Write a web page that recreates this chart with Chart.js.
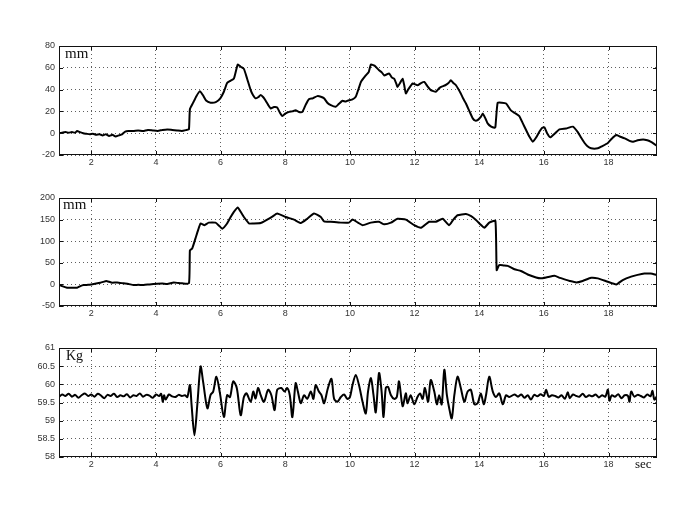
<!DOCTYPE html>
<html>
<head>
<meta charset="utf-8">
<script src="https://cdn.jsdelivr.net/npm/chart.js@4.4.1/dist/chart.umd.min.js"></script>
<style>
  html, body { margin: 0; padding: 0; background: #fff; }
  #wrap { position: relative; width: 700px; height: 511px; overflow: hidden; background: #fff; }
  canvas { position: absolute; left: 0; }
  .lab { position: absolute; font-family: "Liberation Serif", "DejaVu Serif", serif; color: #111; white-space: nowrap; }
</style>
</head>
<body>
<div id="wrap">
  <canvas id="c1" width="700" height="175" style="top:0px"></canvas>
  <canvas id="c2" width="700" height="150" style="top:175px"></canvas>
  <canvas id="c3" width="700" height="186" style="top:325px"></canvas>
  <div class="lab" style="left:65px; top:46px; font-size:15px; line-height:15px;">mm</div>
  <div class="lab" style="left:63px; top:197px; font-size:15px; line-height:15px;">mm</div>
  <div class="lab" style="left:66px; top:349px; font-size:14px; line-height:14px;">Kg</div>
  <div class="lab" style="left:635px; top:457px; font-size:13px; line-height:13px;">sec</div>
</div>
<script>
// ---- shared x axis ----
const xTicks = [2, 4, 6, 8, 10, 12, 14, 16, 18];
const xRange = [1, 19.5];

// ---- panel 1: displacement (mm) ----
const topTicks = [-20, 0, 20, 40, 60, 80];
const topT = [1.0,1.1,1.2,1.3,1.4,1.5,1.56,1.65,1.75,1.85,1.95,2.05,2.15,2.25,2.35,2.45,2.55,2.65,2.75,2.85,2.95,3.05,3.15,3.3,3.45,3.6,3.75,3.9,4.05,4.2,4.35,4.5,4.65,4.8,4.95,5.02,5.05,5.15,5.25,5.36,5.45,5.55,5.69,5.85,5.99,6.1,6.2,6.3,6.41,6.53,6.62,6.72,6.82,6.93,7.0,7.08,7.16,7.24,7.32,7.39,7.47,7.55,7.65,7.75,7.83,7.91,8.0,8.12,8.22,8.32,8.42,8.53,8.63,8.73,8.85,8.99,9.1,9.2,9.3,9.41,9.56,9.66,9.77,9.87,9.97,10.08,10.18,10.26,10.34,10.49,10.58,10.65,10.76,10.9,10.98,11.06,11.21,11.3,11.37,11.44,11.47,11.55,11.63,11.68,11.73,11.8,11.94,12.09,12.2,12.3,12.4,12.5,12.66,12.75,12.82,12.95,13.05,13.12,13.2,13.28,13.43,13.5,13.59,13.7,13.8,13.88,13.95,14.05,14.11,14.2,14.26,14.37,14.47,14.5,14.57,14.7,14.83,14.98,15.1,15.24,15.35,15.45,15.55,15.66,15.76,15.86,15.95,16.02,16.1,16.2,16.35,16.48,16.69,16.9,17.05,17.15,17.26,17.35,17.46,17.67,17.8,17.98,18.1,18.24,18.35,18.5,18.65,18.76,18.9,19.07,19.2,19.3,19.42,19.51];
const topV = [0,0.5,1,0.5,1,0.5,2,1,0,-0.5,-1,-0.5,-1.5,-1,-2,-1,-2.5,-1.5,-3,-2,-1,1.5,2,2,2.5,2,3,2.5,2,3,3.5,3,2.5,2,3,3.5,22,28,34,38.6,35,30,28,28.5,32,38,46,48,50,63,61,59,50,39.5,35,32,33,35,33,30,26,22.7,24,23.5,19,15.7,18,19.6,20,21,19.5,19.6,26,31.2,32,34,33.5,32,28,25.7,24.2,27,29.7,29,30.3,31,33.4,40,47,53,56,63,62,57.8,56,53,54.7,51,50,45,42.5,46,50,44,36.5,40,45.6,44,46,47,43,39.5,38,41,42.5,44,46,48.6,46,44,36.5,32,27.3,20,13.6,11.5,12,15,18,13,9,6,5,5.5,27.9,28,27.3,21,18.5,15.7,9,2.9,-3,-7.8,-4,1.3,5,5.3,0,-3.8,0,3.5,4.4,6,1,-4,-9,-12,-13.9,-13.9,-12,-9,-5,-1.7,-3,-4.7,-7,-7.8,-6.5,-5.7,-6.5,-7.8,-10,-11.8];

// ---- panel 2: displacement (mm) ----
const midTicks = [-50, 0, 50, 100, 150, 200];
const midT = [1.0,1.1,1.25,1.4,1.56,1.66,1.76,1.9,2.0,2.15,2.28,2.4,2.46,2.55,2.64,2.8,3.0,3.15,3.31,3.45,3.62,3.8,4.04,4.2,4.35,4.55,4.7,4.81,5.02,5.05,5.12,5.22,5.3,5.38,5.5,5.63,5.84,5.95,6.05,6.2,6.31,6.41,6.53,6.62,6.72,6.88,7.0,7.24,7.44,7.6,7.75,8.01,8.27,8.48,8.68,8.89,9.1,9.2,9.41,9.72,9.97,10.08,10.25,10.39,10.65,10.9,11.06,11.27,11.47,11.73,11.99,12.2,12.45,12.66,12.87,13.07,13.2,13.33,13.59,13.75,13.9,14.05,14.16,14.31,14.5,14.54,14.62,14.75,14.88,15.09,15.29,15.5,15.76,15.9,16.07,16.33,16.5,16.64,16.8,17.0,17.2,17.46,17.67,17.98,18.24,18.44,18.7,18.9,19.11,19.3,19.51];
const midV = [0,-4,-7.7,-8,-7.7,-4,-1.5,-1,0,2,4,6.5,7.7,6,4,4.5,2.4,1,-1.5,-1,-1.5,0,1.5,2,0.8,4.6,3,2.4,2.4,79,83,106,125,141,137,143,143,136,129,141,156,168,178,168,156,141,141,142,150,157,164,156,150,142,152,164,156,146,145,143,143,150,143,137,143,145,139,143,152,150,137,131,145,145,152,137,150,160,163,158,149,138,131,143,147,33,45,44,43,35,31,23,16,14,16,20,15,11.6,8,4.6,8,15.3,14,6,0,10,18,22,25,25,21.5];

// ---- panel 3: load (Kg) ----
const botTicks = [58, 58.5, 59, 59.5, 60, 60.5, 61];
const botT = [1.0,1.1,1.2,1.3,1.4,1.5,1.6,1.7,1.8,1.9,2.0,2.1,2.2,2.3,2.4,2.5,2.6,2.7,2.8,2.9,3.0,3.1,3.2,3.3,3.4,3.5,3.6,3.7,3.8,3.9,4.0,4.1,4.16,4.21,4.25,4.3,4.4,4.5,4.6,4.7,4.8,4.9,
  4.97,5.05,5.1,5.19,5.28,5.38,5.46,5.59,5.69,5.77,5.87,5.98,6.1,6.2,6.29,6.39,6.5,6.62,6.72,6.8,6.93,7.01,7.08,7.16,7.24,7.34,7.47,7.57,7.67,7.75,7.88,7.98,8.06,8.14,8.22,8.32,8.39,8.48,8.58,8.68,8.79,8.87,8.94,9.04,9.12,9.2,9.32,9.43,9.51,9.61,9.72,9.82,9.92,10.0,10.08,10.18,10.28,10.39,10.49,10.56,10.65,10.73,10.8,10.9,10.98,11.04,11.11,11.18,11.27,11.37,11.45,11.52,11.63,11.73,11.78,11.88,11.99,12.09,12.17,12.25,12.32,12.42,12.5,12.61,12.69,12.76,12.84,12.92,13.0,13.07,13.15,13.23,13.33,13.43,13.54,13.64,13.74,13.85,13.95,14.05,14.14,14.21,14.31,14.42,14.52,14.62,14.73,14.83,14.93,15.09,
  15.2,15.3,15.4,15.5,15.6,15.7,15.8,15.9,16.0,16.07,16.15,16.25,16.35,16.45,16.55,16.65,16.74,16.8,16.9,17.0,17.1,17.2,17.3,17.4,17.5,17.6,17.7,17.8,17.9,17.98,18.03,18.1,18.2,18.3,18.4,18.5,18.6,18.65,18.7,18.8,18.9,19.0,19.1,19.2,19.3,19.36,19.42,19.5];
const botV = [59.65,59.72,59.68,59.74,59.66,59.71,59.63,59.70,59.75,59.68,59.72,59.66,59.74,59.69,59.62,59.71,59.68,59.74,59.65,59.70,59.67,59.73,59.64,59.70,59.68,59.75,59.66,59.71,59.69,59.63,59.72,59.68,59.74,59.52,59.70,59.58,59.72,59.67,59.65,59.71,59.68,59.70,
  59.65,59.98,59.45,58.6,59.45,60.49,60.06,59.34,59.71,59.8,60.21,59.75,59.1,59.7,59.65,60.08,59.9,59.15,59.65,59.75,59.52,59.8,59.61,59.9,59.7,59.52,59.85,59.7,59.29,59.85,59.9,59.8,59.9,59.7,59.1,60.03,59.8,59.48,59.7,59.6,59.8,59.6,59.98,59.8,59.7,59.48,59.9,60.15,59.6,59.52,59.65,59.72,59.6,59.65,59.98,60.26,59.98,59.52,59.2,59.8,60.17,59.7,59.23,60.31,59.8,59.1,59.9,59.93,59.7,59.6,59.65,60.08,59.4,59.75,59.48,59.7,59.45,59.65,59.75,59.6,59.9,59.52,60.12,59.8,59.45,59.7,59.45,60.4,59.7,59.35,59.06,59.7,60.21,59.9,59.52,59.8,59.85,59.45,59.48,59.75,59.45,59.7,60.21,59.8,59.65,59.75,59.45,59.7,59.65,59.72,
  59.66,59.72,59.63,59.70,59.58,59.71,59.67,59.73,59.68,59.85,59.66,59.70,59.68,59.64,59.70,59.60,59.78,59.62,59.72,59.68,59.66,59.74,59.65,59.70,59.67,59.72,59.64,59.70,59.66,59.85,59.55,59.70,59.66,59.73,59.62,59.70,59.68,59.52,59.80,59.66,59.71,59.68,59.64,59.72,59.67,59.82,59.58,59.68];

// ---- drawing helpers ----
const tickFont = { family: "'Liberation Sans', Arial, sans-serif", size: 9 };
const tickColor = '#333';

const frame = {
  id: 'frame',
  afterDraw(chart) {
    const { ctx, chartArea: a, scales } = chart;
    ctx.save();
    ctx.strokeStyle = '#111';
    ctx.lineWidth = 1;
    ctx.strokeRect(Math.round(a.left) + 0.5, Math.round(a.top) + 0.5,
                   Math.round(a.right - a.left) - 1, Math.round(a.bottom - a.top) - 1);
    const L = 4;
    ctx.beginPath();
    scales.x.ticks.forEach(t => {
      const px = Math.round(scales.x.getPixelForValue(t.value)) + 0.5;
      ctx.moveTo(px, a.bottom); ctx.lineTo(px, a.bottom - L);
      ctx.moveTo(px, a.top); ctx.lineTo(px, a.top + L);
    });
    scales.y.ticks.forEach(t => {
      const py = Math.round(scales.y.getPixelForValue(t.value)) + 0.5;
      ctx.moveTo(a.left, py); ctx.lineTo(a.left + L, py);
      ctx.moveTo(a.right, py); ctx.lineTo(a.right - L, py);
    });
    ctx.stroke();
    ctx.restore();
  }
};

function makeChart(id, t, v, yTicks, padTop, padBottom, xAxisH, tension) {
  const pts = t.map((x, i) => ({ x: x, y: v[i] }));
  return new Chart(document.getElementById(id), {
    type: 'line',
    data: { datasets: [{ data: pts, borderColor: '#000', borderWidth: 2, pointRadius: 0, tension: tension, cubicInterpolationMode: 'default', fill: false, borderJoinStyle: 'round' }] },
    options: {
      responsive: false, animation: false, devicePixelRatio: 1,
      layout: { padding: { left: 0, right: 43, top: padTop, bottom: padBottom } },
      plugins: { legend: { display: false }, tooltip: { enabled: false } },
      scales: {
        x: {
          type: 'linear', min: xRange[0], max: xRange[1],
          afterBuildTicks: s => { s.ticks = xTicks.map(val => ({ value: val })); },
          afterFit: s => { s.height = xAxisH; },
          ticks: { font: tickFont, color: tickColor, padding: 2, maxRotation: 0, autoSkip: false, callback: val => String(val) },
          grid: { color: 'rgba(40,40,40,0.75)', lineWidth: 1, drawTicks: false },
          border: { display: false, dash: [1, 3] }
        },
        y: {
          min: yTicks[0], max: yTicks[yTicks.length - 1],
          afterBuildTicks: s => { s.ticks = yTicks.map(val => ({ value: val })); },
          afterFit: s => { s.width = 59; },
          ticks: { font: tickFont, color: tickColor, padding: 4, autoSkip: false, callback: val => String(val) },
          grid: { color: 'rgba(40,40,40,0.75)', lineWidth: 1, drawTicks: false },
          border: { display: false, dash: [1, 3] }
        }
      }
    },
    plugins: [frame]
  });
}

makeChart('c1', topT, topV, topTicks, 46, 0, 20, 0.15);
makeChart('c2', midT, midV, midTicks, 23, 0, 19, 0.15);
makeChart('c3', botT, botV, botTicks, 23, 34, 20, 0.3);
</script>
</body>
</html>
